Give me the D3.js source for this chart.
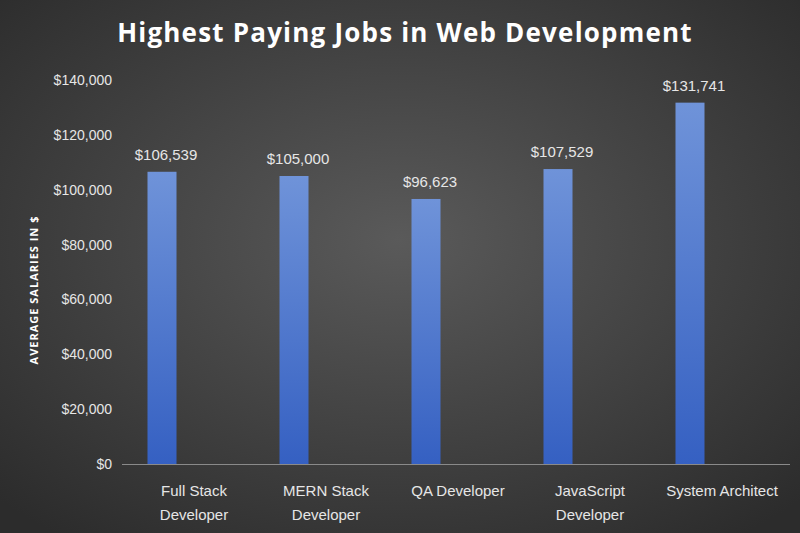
<!DOCTYPE html>
<html><head><meta charset="utf-8">
<script src="https://cdn.jsdelivr.net/npm/d3@7"></script>
<style>body{margin:0;background:#333}svg{display:block}</style>
</head><body><svg id="c" width="800" height="533"></svg>
<script>
const categories = [["Full Stack","Developer"],["MERN Stack","Developer"],["QA Developer"],["JavaScript","Developer"],["System Architect"]];
const salaries = [106539, 105000, 96623, 107529, 131741];
const ticks = [0,20000,40000,60000,80000,100000,120000,140000];

const svg = d3.select("#c");
const defs = svg.append("defs");
const bg = defs.append("radialGradient").attr("id","bg").attr("cx","50%").attr("cy","45%").attr("r","70%");
bg.append("stop").attr("offset","0%").attr("stop-color","#5a5a5a");
bg.append("stop").attr("offset","100%").attr("stop-color","#2c2c2c");
const bar = defs.append("linearGradient").attr("id","bar").attr("x1",0).attr("y1",0).attr("x2",0).attr("y2",1);
bar.append("stop").attr("offset","0%").attr("stop-color","#6f93d9");
bar.append("stop").attr("offset","100%").attr("stop-color","#3560c2");
svg.append("rect").attr("width",800).attr("height",533).attr("fill","url(#bg)");

const font = "'Liberation Sans Narrow','Liberation Sans',sans-serif";
const y = d3.scaleLinear().domain([0,140000]).range([464,80]);
const x = d3.scaleBand().domain(d3.range(5)).range([98,758]).paddingInner(0);
const bw = 29;
const cx = i => x(i) + x.bandwidth()/2 - 2;

svg.append("text").attr("x",405).attr("y",42).attr("text-anchor","middle")
  .attr("fill","#fff").attr("font-family","'Open Sans',sans-serif").attr("font-weight","bold")
  .attr("font-size",26).attr("letter-spacing",1.2).text("Highest Paying Jobs in Web Development");

svg.append("g").selectAll("text").data(ticks).join("text")
  .attr("x",112).attr("y",d=>y(d)+5).attr("text-anchor","end").attr("fill","#e6e6e6")
  .attr("font-family",font).attr("font-size",14).text(d=>d3.format("$,")(d));

svg.append("text").attr("transform","translate(38,290) rotate(-90)").attr("text-anchor","middle")
  .attr("fill","#fff").attr("font-family","'Open Sans',sans-serif").attr("font-weight","bold")
  .attr("font-size",11).attr("letter-spacing",1).text("AVERAGE SALARIES IN $");

svg.append("line").attr("x1",122).attr("x2",790).attr("y1",464.5).attr("y2",464.5).attr("stroke","#8a8a8a");

svg.append("g").selectAll("rect").data(salaries).join("rect")
  .attr("x",(d,i)=>cx(i)-bw/2).attr("width",bw).attr("y",d=>y(d)).attr("height",d=>464-y(d))
  .attr("fill","url(#bar)");

svg.append("g").selectAll("text").data(salaries).join("text")
  .attr("x",(d,i)=>cx(i)+4).attr("y",d=>y(d)-12).attr("text-anchor","middle").attr("fill","#e6e6e6")
  .attr("font-family",font).attr("font-size",15).text(d=>d3.format("$,")(d));

const lab = svg.append("g").selectAll("text").data(categories).join("text")
  .attr("text-anchor","middle").attr("fill","#e6e6e6").attr("font-family",font).attr("font-size",15);
lab.each(function(d,i){
  const t=d3.select(this);
  d.forEach((s,j)=>t.append("tspan").attr("x",cx(i)+32).attr("y",496+j*24).text(s));
});
</script></body></html>
